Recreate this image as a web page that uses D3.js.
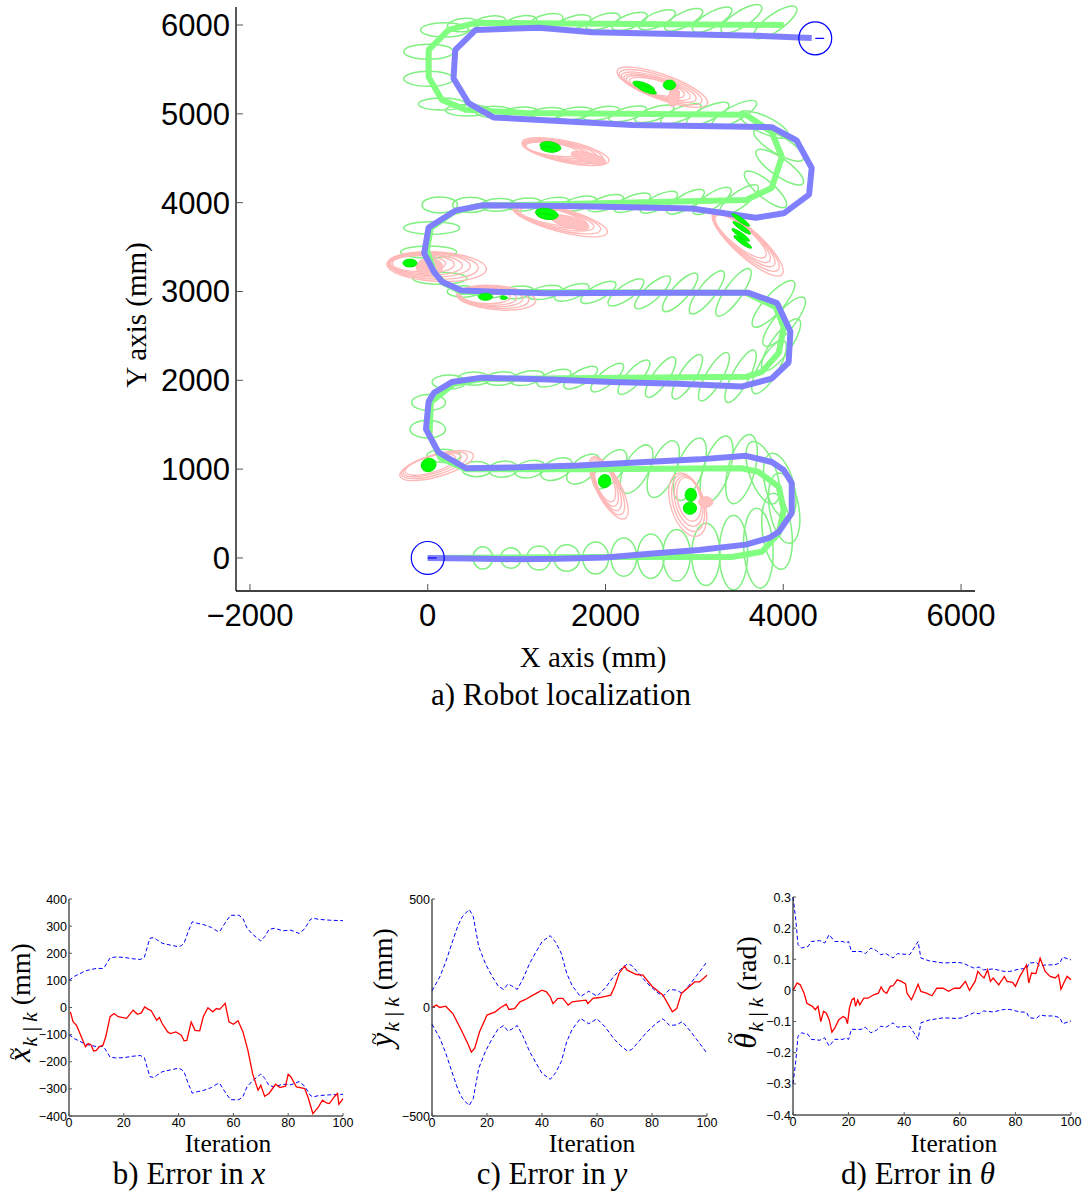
<!DOCTYPE html>
<html>
<head>
<meta charset="utf-8">
<script src="https://cdn.jsdelivr.net/npm/d3@7"></script>
<style>
  html, body { margin: 0; padding: 0; background: #fff; }
  svg { display: block; }
  .tick-main { font-family: "Liberation Sans", Arial, sans-serif; font-size: 31px; }
  .tick-sub { font-family: "Liberation Sans", Arial, sans-serif; font-size: 12.5px; }
  .serif { font-family: "Liberation Serif", "Times New Roman", serif; }
</style>
</head>
<body>
<svg id="fig" width="1088" height="1191"></svg>
<script>
// ---------- a) robot localization (all values in mm) ----------
const xTicksMain = [-2000, 0, 2000, 4000, 6000];
const yTicksMain = [0, 1000, 2000, 3000, 4000, 5000, 6000];

// estimated trajectory
const estimatedPath = [[0,0],[1920,10],[3420,10],[3760,70],[3950,280],[4005,540],[3950,800],[3720,970],[3530,1010],[1845,1000],[430,1000],[145,1125],[20,1385],[35,1755],[290,1960],[610,2015],[3580,2040],[3760,2095],[3950,2310],[4005,2600],[3915,2825],[3580,2985],[380,2995],[180,3095],[70,3220],[-10,3470],[35,3715],[290,3895],[575,3965],[3580,4030],[3870,4165],[3985,4515],[3870,4795],[3580,4990],[1100,5010],[430,5045],[160,5155],[10,5415],[10,5720],[235,5945],[540,6025],[4005,6000]];

// ground-truth trajectory
const truePath = [[0,0],[1920,0],[3400,0],[3740,60],[3925,275],[3985,540],[3930,790],[3710,955],[3520,995],[1845,990],[440,990],[160,1120],[40,1385],[55,1750],[300,1950],[615,2005],[3570,2030],[3740,2085],[3925,2300],[3985,2600],[3895,2815],[3575,2975],[390,2985],[195,3090],[90,3220],[10,3470],[55,3710],[300,3885],[580,3955],[3570,4020],[3850,4160],[3960,4515],[3850,4785],[3570,4980],[1100,5000],[440,5035],[175,5150],[30,5415],[30,5715],[250,5935],[545,6015],[4005,5990]];

// odometry trajectory
const odometryPath = [[0,0],[460,-5],[1010,-15],[1470,-10],[2000,5],[2600,55],[3050,90],[3580,150],[3840,225],[3950,295],[4095,505],[4095,845],[4005,990],[3870,1080],[3580,1150],[3050,1110],[2070,1060],[1700,1040],[1020,1020],[430,1010],[120,1190],[-20,1450],[10,1760],[70,1860],[270,1980],[610,2030],[1360,2010],[2070,1980],[2820,1960],[3530,1930],[3870,2020],[4060,2200],[4080,2550],[3930,2870],[3610,2985],[2490,2985],[1330,2980],[380,3010],[160,3110],[70,3220],[-40,3430],[10,3720],[310,3910],[610,3970],[1700,3960],[2970,3935],[3690,3830],[4005,3880],[4290,4090],[4320,4390],[4150,4700],[3870,4850],[2300,4875],[740,4960],[460,5120],[290,5400],[310,5720],[540,5945],[1250,5970],[1850,5920],[3690,5880],[4320,5855]];

// robot pose covariance ellipses: [cx, cy, semi-axis a, semi-axis b, angle of a in degrees]
const poseEllipses = [
  [620,0,125,110,90],[935,0,115,115,90],[1250,0,135,135,90],[1565,0,150,145,90],[1890,0,180,145,90],[2205,10,215,145,90],[2510,20,250,150,90],[2800,30,290,155,90],[3130,40,350,160,90],[3440,60,420,160,90],[3720,110,450,165,93],
  [3930,300,430,165,97],[4010,560,400,165,100],[3960,810,380,160,105],[3770,960,370,150,110],
  [3530,1000,400,150,75],[3250,1000,390,148,72],[2950,1000,370,145,70],[2650,1000,340,140,68],[2350,1000,300,135,62],[2050,1000,260,128,52],[1750,1000,220,120,40],[1450,1000,190,110,25],[1150,1000,175,95,12],[850,1000,165,90,5],[550,1000,165,85,0],
  [180,1150,190,75,0],[0,1450,200,100,0],[10,1750,190,90,0],[240,1980,190,80,0],
  [520,2020,180,75,0],[820,2020,180,75,5],[1120,2025,190,75,12],[1420,2025,200,78,20],[1720,2030,215,80,30],[2020,2030,230,82,40],[2320,2035,250,85,48],[2620,2035,270,88,55],[2920,2040,290,90,58],[3220,2040,310,92,60],[3520,2045,330,95,62],
  [3840,2150,340,110,60],[3975,2400,350,110,55],[4010,2660,350,110,50],[3890,2860,340,105,48],
  [3440,2990,320,95,55],[3140,2990,300,92,52],[2840,2990,280,90,48],[2530,2990,260,85,42],[2230,2990,240,82,35],[1920,2990,220,80,28],[1620,2990,205,75,20],[1320,2990,195,72,12],[1010,2990,185,70,6],[710,2995,180,68,2],[400,3000,180,65,0],
  [135,3150,305,68,0],[10,3445,315,68,0],[45,3715,315,70,0],
  [135,3975,200,90,0],[480,3975,200,85,0],[790,3975,190,72,3],[1090,3980,190,70,6],[1400,3985,195,70,10],[1700,3990,200,72,14],[2000,3995,210,75,18],[2300,4000,220,78,22],[2600,4005,230,80,26],[2900,4010,240,82,30],[3200,4020,250,85,33],[3500,4030,265,88,36],
  [3800,4150,300,95,-40],[3960,4400,320,100,-35],[3950,4650,320,100,-30],[3780,4880,300,95,-25],
  [3450,5000,280,85,28],[3150,5000,260,80,25],[2850,5000,245,75,22],[2550,5000,230,72,18],[2250,5000,220,70,15],[1950,5005,210,68,12],[1650,5005,205,66,8],[1350,5005,200,65,5],[1050,5010,200,65,3],[750,5020,210,65,0],[450,5040,250,65,0],
  [160,5110,265,68,0],[10,5395,280,85,0],[10,5700,280,85,0],[190,5945,270,80,0],
  [400,6000,180,75,5],[700,6030,180,70,8],[1050,6030,180,70,10],[1340,6050,185,70,12],[1650,6030,190,72,15],[1970,6040,200,75,18],[2270,6040,210,78,20],[2580,6060,220,80,23],[2880,6060,235,82,26],[3200,6060,250,85,29],[3530,6070,265,90,32],[3910,6030,290,95,35]
];

// landmark covariance ellipses
const landmarkEllipses = [
  [2640,5300,540,140,-20],[2620,5300,490,125,-19],[2600,5300,440,110,-18],[2580,5300,390,100,-17],[2560,5305,340,90,-16],[2550,5305,290,80,-15],
  [1550,4575,500,120,-12],[1520,4580,460,110,-11],[1490,4585,420,100,-10],[1460,4590,380,90,-10],[1430,4595,340,80,-9],[1400,4600,300,70,-8],
  [1490,3805,550,130,-15],[1460,3815,500,118,-14],[1430,3825,450,106,-13],[1400,3835,400,95,-12],[1380,3845,350,85,-11],
  [3600,3540,520,150,-42],[3580,3560,480,140,-41],[3560,3580,440,130,-40],[3540,3600,400,120,-40],[3520,3620,360,110,-39],
  [100,3280,560,165,-3],[60,3290,510,150,-3],[20,3300,460,135,-2],[-20,3305,410,120,-2],[-60,3310,360,105,-1],[-100,3315,300,90,0],
  [770,2930,445,135,-5],[740,2935,400,122,-5],[710,2940,360,110,-4],[680,2945,320,98,-4],[650,2950,280,86,-3],
  [100,1040,430,125,16],[75,1045,385,112,16],[50,1048,340,100,16],[30,1050,295,90,16],
  [2036,788,390,135,-62],[2025,805,350,125,-64],[2015,820,310,115,-66],[2005,835,270,105,-68],[1995,850,230,95,-70],
  [2925,600,370,190,-72],[2930,620,330,170,-74],[2935,640,290,150,-76],[2940,660,250,130,-78]
];
// dense pink regions of the landmark ellipses
const landmarkBlobs = [[2768,5191,110,60,80],[1811,4505,200,55,-15],[1600,3780,220,65,-15],[20,3275,150,100,0],[3128,630,80,60,0]];

// estimated landmark positions
const landmarkEstimates = [
  [2430,5310,130,40,-20],[2470,5270,110,30,-20],[2720,5325,70,55,0],
  [1380,4630,120,55,-10],[1360,4600,90,30,-10],
  [1340,3875,130,60,-10],[1330,3845,100,30,-10],
  [3521,3806,120,25,-35],[3533,3716,120,25,-35],[3521,3637,120,25,-35],[3544,3558,120,25,-35],
  [-200,3320,80,45,0],[855,2930,40,20,0],[650,2940,80,40,0],
  [10,1047,85,75,20],[1990,865,75,70,70],[2960,710,65,75,0],[2950,560,75,70,0]
];

// start and end poses [x, y, heading deg]
const startPose = [0, 0, 0];
const endPose = [4360, 5850, 0];

// ---------- b), c), d) estimation errors ----------
const xErrIter = [0.5,1.5,2.7,4,6,7,8,9,10,11,12.4,13.4,15,16.4,18,21,23.4,25,26.4,27.6,29,30,32,33,34,36,37,39,41,42,43,44.6,46,47.7,49,50.7,52.5,53.8,55,57,58.4,60,61.7,63.5,65.3,67,69,70,71.4,73,75.4,77,79,80,81,83,84.4,86,87.2,89,91,92.5,94,95,97,98,98.5,100];
const xErr = [-16,-53,-65,-96,-145,-133,-137,-160,-158,-145,-139,-108,-34,-22,-34,-40,-10,-25,-20,2,-7,-12,-47,-37,-59,-90,-96,-90,-102,-123,-121,-53,-84,-86,-34,-1,-16,-4,-7,15,-53,-62,-49,-90,-158,-244,-305,-287,-327,-317,-283,-295,-290,-246,-256,-293,-295,-299,-330,-391,-367,-342,-352,-354,-327,-317,-357,-336];
const xBoundIter = [0,2,4,6,8,10,12.4,13,15,17,20,23,26,27.5,29.5,31,32,34,37,40,41,42,43.5,45,47,49,52,54,55,56,57.5,59,62,63.5,65,67,70,71.5,73,75,78,81,84,86,88,89,91,95,100];
const xBoundUpper = [100,115,125,135,140,144,144,150,183,186,185,180,177,185,255,258,250,237,230,224,228,237,280,316,310,306,295,282,280,296,320,340,340,328,292,270,245,262,288,292,283,285,273,290,323,330,325,322,320];
const xBoundLower = [-100,-115,-125,-135,-140,-144,-144,-150,-183,-186,-185,-180,-177,-185,-255,-258,-250,-237,-230,-224,-228,-237,-280,-316,-310,-306,-295,-282,-280,-296,-320,-340,-340,-328,-292,-270,-245,-262,-288,-292,-283,-285,-273,-290,-323,-330,-325,-322,-320];

const yErrIter = [0,1.6,2.8,5,7.6,10.7,13,14.3,15.5,17.3,20,23,25,27,28,30,32,34,36.7,40,41.6,43,44,45.8,47.6,49.5,51,53.7,56,56.7,58.5,61,63.4,65,66.4,68,70,71,74.3,76.7,80,84,86.4,87.4,89,90.7,93.7,95.5,97.3,100];
const yErr = [0,11,0,6,-28,-105,-166,-205,-189,-112,-35,-20,0,15,-9,-5,26,37,57,80,72,49,18,42,42,11,26,31,34,18,42,46,52,57,95,157,191,172,152,149,98,57,3,-20,-5,65,98,118,118,149];
const yBoundIter = [0,2.8,5,7.6,9.5,11,13.5,15,17,19.5,22,24,26,27.6,29,31,33,35.5,38,40,43,45,47,49,51,54,57,60,63,66,68.5,71,72.5,75,78,81.6,84,86.4,89,91,94,97,100];
const yBoundUpper = [77,140,210,310,380,418,452,420,280,200,141,100,83,108,100,83,130,203,260,303,331,300,250,157,100,50,75,52,90,142,175,200,195,160,115,72,52,83,80,65,110,160,211];
const yBoundLower = [-77,-140,-210,-310,-380,-418,-452,-420,-280,-200,-141,-100,-83,-108,-100,-83,-130,-203,-260,-303,-331,-300,-250,-157,-100,-50,-75,-52,-90,-142,-175,-200,-195,-160,-115,-72,-52,-83,-80,-65,-110,-160,-211];

const thErrIter = [0,1.5,2.6,4,5,7,8,9,10,11,12,13,14,15,16.5,18,19,19.6,20.3,21.2,22,22.5,23.3,24,25.5,27,29,30.7,31.7,32.6,33.7,35,36,37.5,39,40.5,41,42.6,43.8,45,46,48,50,51.7,54,56,58,60,62,63.5,65.5,66.5,67.5,68.7,70,71,72,74,76,77,79,80,81.6,84,84.8,85.8,87.4,88.9,90.7,92.5,94.3,95.5,96.4,97.4,98.6,100];
const thErr = [0,0.024,0.018,-0.009,-0.041,-0.051,-0.062,-0.051,-0.1,-0.067,-0.073,-0.094,-0.134,-0.121,-0.094,-0.084,-0.089,-0.107,-0.057,-0.03,-0.025,-0.051,-0.03,-0.046,-0.025,-0.025,-0.014,-0.009,0.011,-0.003,-0.009,0.013,0.015,0.034,0.029,0.021,-0.009,-0.03,-0.006,0.02,-0.003,-0.009,-0.017,0.007,0.007,-0.003,0.007,0.007,0.029,0,0.029,0.061,0.05,0.04,0.066,0.029,0.04,0.018,0.045,0.029,0.026,0.013,0.045,0.082,0.024,0.056,0.054,0.104,0.061,0.045,0.04,0.05,0.004,0.024,0.045,0.034];
const thBoundIter = [0,1,1.8,3,5.4,6.6,9.6,11.4,13,15,18,19,20,21,24.5,26,28,30,31.5,33.5,36,37.5,42,43.5,45,46,49,54,59,61,65,67,68.5,72,76,78,81.6,84,85,87.5,89,91,94,96,97,100];
const thBoundUpper = [0.3,0.227,0.147,0.136,0.141,0.157,0.16,0.152,0.179,0.157,0.157,0.152,0.157,0.125,0.125,0.118,0.136,0.128,0.115,0.118,0.104,0.118,0.115,0.136,0.157,0.104,0.095,0.088,0.09,0.088,0.072,0.075,0.066,0.069,0.061,0.061,0.069,0.07,0.088,0.09,0.079,0.082,0.082,0.088,0.107,0.098];
const thBoundLower = [-0.3,-0.227,-0.147,-0.136,-0.141,-0.157,-0.16,-0.152,-0.179,-0.157,-0.157,-0.152,-0.157,-0.125,-0.125,-0.118,-0.136,-0.128,-0.115,-0.118,-0.104,-0.118,-0.115,-0.136,-0.157,-0.104,-0.095,-0.088,-0.09,-0.088,-0.072,-0.075,-0.066,-0.069,-0.061,-0.061,-0.069,-0.07,-0.088,-0.09,-0.079,-0.082,-0.082,-0.088,-0.107,-0.098];

const iterTicks = [0, 20, 40, 60, 80, 100];
const xErrTicks = [-400, -300, -200, -100, 0, 100, 200, 300, 400];
const yErrTicks = [-500, 0, 500];
const thErrTicks = [-0.4, -0.3, -0.2, -0.1, 0, 0.1, 0.2, 0.3];

// ======================================================================
const svg = d3.select("#fig");
const minus = s => String(s).replace("-", "\u2212");

// ---------- panel a ----------
const A = { left: 236, right: 975, top: 7, bottom: 591 };
const sx = d3.scaleLinear().domain([-2157, 6157]).range([A.left, A.right]);
const sy = d3.scaleLinear().domain([-372, 6203]).range([A.bottom, A.top]);
const kx = sx(1) - sx(0), ky = sy(0) - sy(1);
const gA = svg.append("g");

function drawEllipses(g, data, attrs) {
  const sel = g.selectAll(null).data(data).enter().append("ellipse")
    .attr("cx", 0).attr("cy", 0)
    .attr("rx", d => d[2] * kx).attr("ry", d => d[3] * ky)
    .attr("transform", d => `translate(${sx(d[0])},${sy(d[1])}) rotate(${-d[4]})`);
  Object.entries(attrs).forEach(([k, v]) => sel.attr(k, v));
  return sel;
}

drawEllipses(gA, poseEllipses, { fill: "none", stroke: "#80f080", "stroke-width": 1.5 });
drawEllipses(gA, landmarkEllipses, { fill: "none", stroke: "#ffb8b8", "stroke-width": 1.4 });
drawEllipses(gA, landmarkBlobs, { fill: "#ffc0c0", stroke: "#ffb8b8", "stroke-width": 1 });

const line = d3.line().x(d => sx(d[0])).y(d => sy(d[1]));
gA.append("path").datum(truePath).attr("d", line)
  .attr("fill", "none").attr("stroke", "#ff7070").attr("stroke-width", 1.6);
gA.append("path").datum(estimatedPath).attr("d", line)
  .attr("fill", "none").attr("stroke", "#80ff80").attr("stroke-width", 6).attr("stroke-linejoin", "bevel");
gA.append("path").datum(odometryPath).attr("d", line)
  .attr("fill", "none").attr("stroke", "#8080ff").attr("stroke-width", 6).attr("stroke-linejoin", "bevel");

drawEllipses(gA, landmarkEstimates, { fill: "#00ff00", stroke: "#00e000", "stroke-width": 0.8 });

// start and end markers
[startPose, endPose].forEach(p => {
  gA.append("circle").attr("cx", sx(p[0])).attr("cy", sy(p[1])).attr("r", 185 * kx)
    .attr("fill", "none").attr("stroke", "#0000ff").attr("stroke-width", 1.2);
  const a = p[2] * Math.PI / 180;
  gA.append("line")
    .attr("x1", sx(p[0])).attr("y1", sy(p[1]))
    .attr("x2", sx(p[0] + 100 * Math.cos(a))).attr("y2", sy(p[1] + 100 * Math.sin(a)))
    .attr("stroke", "#0000ff").attr("stroke-width", 1.2);
});

// axes of panel a
gA.append("line").attr("x1", A.left).attr("x2", A.left).attr("y1", A.top).attr("y2", A.bottom).attr("stroke", "#000").attr("stroke-width", 1.3);
gA.append("line").attr("x1", A.left).attr("x2", A.right).attr("y1", A.bottom).attr("y2", A.bottom).attr("stroke", "#000").attr("stroke-width", 1.3);
xTicksMain.forEach(t => {
  gA.append("line").attr("x1", sx(t)).attr("x2", sx(t)).attr("y1", A.bottom).attr("y2", A.bottom - 7).attr("stroke", "#555");
  gA.append("text").attr("class", "tick-main").attr("x", sx(t)).attr("y", A.bottom + 35)
    .attr("text-anchor", "middle").text(minus(t));
});
yTicksMain.forEach(t => {
  gA.append("line").attr("x1", A.left).attr("x2", A.left + 7).attr("y1", sy(t)).attr("y2", sy(t)).attr("stroke", "#555");
  gA.append("text").attr("class", "tick-main").attr("x", A.left - 6).attr("y", sy(t) + 11)
    .attr("text-anchor", "end").text(minus(t));
});
gA.append("text").attr("class", "serif").attr("font-size", 29).attr("text-anchor", "middle")
  .attr("x", 593).attr("y", 667).text("X axis (mm)");
gA.append("text").attr("class", "serif").attr("font-size", 29).attr("text-anchor", "middle")
  .attr("transform", "translate(146,315) rotate(-90)").text("Y axis (mm)");
gA.append("text").attr("class", "serif").attr("font-size", 31).attr("text-anchor", "middle")
  .attr("x", 561).attr("y", 705).text("a) Robot localization");

// rotated label "v~_{k|k} (unit)" laid out piece by piece
function mathYLabel(cx, cy, v, unit, tall) {
  const g = svg.append("g").attr("transform", `translate(${cx},${cy}) rotate(-90)`);
  const pieces = [
    { t: v, size: 32, italic: true, dy: 0 },
    { t: "k\u2009|\u2009k", size: 22, italic: true, dy: 7 },
    { t: "\u00a0(" + unit + ")", size: 28, italic: false, dy: 0 }
  ];
  const nodes = pieces.map(p => {
    const n = g.append("text").attr("class", "serif").attr("font-size", p.size)
      .attr("font-style", p.italic ? "italic" : "normal").attr("y", p.dy).text(p.t);
    return { n, w: n.node().getComputedTextLength() };
  });
  const total = nodes.reduce((s, d) => s + d.w, 0);
  let x = -total / 2;
  nodes.forEach((d, i) => { d.n.attr("x", x); d.x0 = x; x += d.w + (i === 0 ? 1 : 0); });
  // tilde accent over the variable
  g.append("text").attr("class", "serif").attr("font-size", 22).attr("text-anchor", "middle")
    .attr("x", nodes[0].x0 + nodes[0].w / 2 + (tall ? 3 : 1)).attr("y", tall ? -19 : -11).text("~");
}

// ---------- panels b, c, d ----------
function errorPanel(cfg) {
  const g = svg.append("g");
  const px = d3.scaleLinear().domain([0, 100]).range([cfg.left, cfg.right]);
  const py = d3.scaleLinear().domain(cfg.domain).range([cfg.bottom, cfg.top]);
  const ln = d3.line().x(d => px(d[0])).y(d => py(d[1]));
  const zip = (a, b) => a.map((v, i) => [v, b[i]]);
  [cfg.upper, cfg.lower].forEach(b => {
    g.append("path").datum(zip(cfg.boundIter, b)).attr("d", ln)
      .attr("fill", "none").attr("stroke", "#0000ff").attr("stroke-width", 1).attr("stroke-dasharray", "4,2.5");
  });
  g.append("path").datum(zip(cfg.errIter, cfg.err)).attr("d", ln)
    .attr("fill", "none").attr("stroke", "#ff0000").attr("stroke-width", 1.3);
  g.append("line").attr("x1", cfg.left).attr("x2", cfg.left).attr("y1", cfg.top).attr("y2", cfg.bottom).attr("stroke", "#000");
  g.append("line").attr("x1", cfg.left).attr("x2", cfg.right).attr("y1", cfg.bottom).attr("y2", cfg.bottom).attr("stroke", "#000");
  iterTicks.forEach(t => {
    g.append("line").attr("x1", px(t)).attr("x2", px(t)).attr("y1", cfg.bottom).attr("y2", cfg.bottom - 3).attr("stroke", "#555");
    g.append("text").attr("class", "tick-sub").attr("x", px(t)).attr("y", cfg.bottom + 10.5)
      .attr("text-anchor", "middle").text(t);
  });
  cfg.ticks.forEach(t => {
    g.append("line").attr("x1", cfg.left).attr("x2", cfg.left + 3).attr("y1", py(t)).attr("y2", py(t)).attr("stroke", "#555");
    g.append("text").attr("class", "tick-sub").attr("x", cfg.left - 2).attr("y", py(t) + 4.5)
      .attr("text-anchor", "end").text(minus(t));
  });
  g.append("text").attr("class", "serif").attr("font-size", 25.5).attr("text-anchor", "middle")
    .attr("x", cfg.itX).attr("y", 1152).text("Iteration");
  const cap = g.append("text").attr("class", "serif").attr("font-size", 31).attr("text-anchor", "middle")
    .attr("x", cfg.capX).attr("y", 1184);
  cap.append("tspan").text(cfg.caption);
  cap.append("tspan").attr("font-style", "italic").text(cfg.capVar);
  mathYLabel(cfg.ylX, cfg.ylY, cfg.yVar, cfg.unit, cfg.tall);
}

errorPanel({ left: 69, right: 343, top: 899, bottom: 1116, domain: [-400, 400], ticks: xErrTicks,
  boundIter: xBoundIter, upper: xBoundUpper, lower: xBoundLower, errIter: xErrIter, err: xErr,
  caption: "b) Error in ", capVar: "x", capX: 189, itX: 228, yVar: "x", unit: "mm", tall: false, ylX: 30, ylY: 1003 });
errorPanel({ left: 432, right: 707, top: 899, bottom: 1116, domain: [-500, 500], ticks: yErrTicks,
  boundIter: yBoundIter, upper: yBoundUpper, lower: yBoundLower, errIter: yErrIter, err: yErr,
  caption: "c) Error in ", capVar: "y", capX: 552, itX: 592, yVar: "y", unit: "mm", tall: false, ylX: 392, ylY: 988 });
errorPanel({ left: 793, right: 1071, top: 897, bottom: 1115, domain: [-0.4, 0.3], ticks: thErrTicks,
  boundIter: thBoundIter, upper: thBoundUpper, lower: thBoundLower, errIter: thErrIter, err: thErr,
  caption: "d) Error in ", capVar: "\u03b8", capX: 918, itX: 954, yVar: "\u03b8", unit: "rad", tall: true, ylX: 756, ylY: 993 });
</script>
</body>
</html>
